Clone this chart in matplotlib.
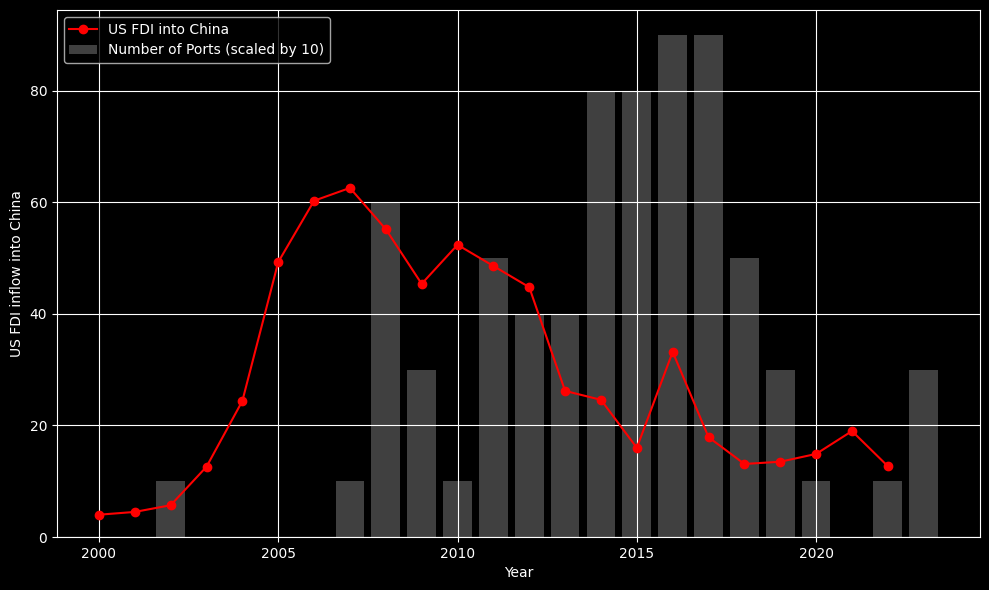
"""US FDI into China vs number of ports"""
import matplotlib
matplotlib.use("Agg")
import matplotlib.pyplot as plt

# FDI line series
fdi_years = list(range(2000, 2023))
fdi_values = [4.0, 4.5, 5.7, 12.6, 24.4, 49.3, 60.3, 62.6, 55.2, 45.4, 52.4,
              48.6, 44.8, 26.2, 24.6, 16.0, 33.2, 17.9, 13.1, 13.5, 14.9,
              19.0, 12.7]

# Ports bars (already scaled by 10)
port_years = list(range(2002, 2024))
port_values = [10, 0, 0, 0, 0, 10, 60, 30, 10, 50, 40, 40, 80, 80, 90, 90,
               50, 30, 10, 0, 10, 30]


def main():
    plt.style.use("dark_background")
    fig, ax = plt.subplots(figsize=(9.89, 5.9), dpi=100)

    ax.plot(fdi_years, fdi_values, color="red", marker="o",
            label="US FDI into China")
    ax.bar(port_years, port_values, color="gray", alpha=0.5, width=0.8,
           label="Number of Ports (scaled by 10)")

    ax.set_xlabel("Year")
    ax.set_ylabel("US FDI inflow into China")
    ax.grid(True, color="white")
    ax.legend(loc="upper left")

    fig.subplots_adjust(left=0.0576, right=0.9909, top=0.983, bottom=0.0898)
    fig.savefig("out.png")


if __name__ == '__main__':
    main()
